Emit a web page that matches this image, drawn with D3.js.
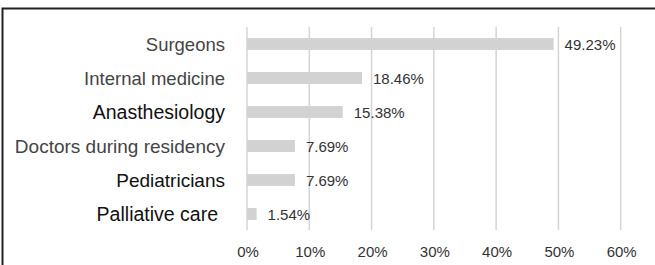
<!DOCTYPE html>
<html>
<head>
  <meta charset="utf-8">
  <script src="https://d3js.org/d3.v7.min.js"></script>
  <style>
    body { margin: 0; background: #fff; }
    text { font-family: "Liberation Sans", Arial, sans-serif; }
  </style>
</head>
<body>
<div id="chart"></div>
<script>
  // Specialties and their share of respondents (%).
  const categories = ["Surgeons", "Internal medicine", "Anasthesiology",
                      "Doctors during residency", "Pediatricians", "Palliative care"];
  const values = [49.23, 18.46, 15.38, 7.69, 7.69, 1.54];
  const ticks = [0, 10, 20, 30, 40, 50, 60];

  const W = 655, H = 265;
  const svg = d3.select("#chart").append("svg")
    .attr("width", W)
    .attr("height", H);

  // frame: top and left only
  svg.append("path")
    .attr("d", "M2.5," + H + "V8.5H" + W)
    .attr("fill", "none")
    .attr("stroke", "#222")
    .attr("stroke-width", 2);

  const x = d3.scaleLinear().domain([0, 60]).range([247, 620.7]);
  const y = d3.scaleBand().domain(categories).range([27, 231])
    .paddingInner(0.65).paddingOuter(0.325);

  // vertical gridlines
  svg.selectAll(".grid")
    .data(ticks)
    .enter().append("line")
    .attr("x1", d => x(d)).attr("x2", d => x(d))
    .attr("y1", 27).attr("y2", 230)
    .attr("stroke", "#d4d4d4")
    .attr("stroke-width", 1.5);

  // bars
  svg.selectAll(".bar")
    .data(values)
    .enter().append("rect")
    .attr("x", x(0))
    .attr("y", (d, i) => y(categories[i]))
    .attr("width", d => x(d) - x(0))
    .attr("height", y.bandwidth())
    .attr("fill", "#d2d2d2");

  // value labels
  svg.selectAll(".val")
    .data(values)
    .enter().append("text")
    .attr("x", d => x(d) + 11)
    .attr("y", (d, i) => y(categories[i]) + y.bandwidth() / 2 + 5.5)
    .attr("font-size", "15px")
    .attr("fill", "#333")
    .text(d => d.toFixed(2) + "%");

  // category labels (the source mixes two text styles)
  const labelSize = [18.5, 18.5, 19.5, 19, 19, 19.5];
  const labelEnd = [225, 225, 225, 225, 225, 218];
  svg.selectAll(".cat")
    .data(categories)
    .enter().append("text")
    .attr("x", (d, i) => labelEnd[i])
    .attr("y", d => y(d) + y.bandwidth() / 2 + 6.5)
    .attr("text-anchor", "end")
    .attr("font-size", (d, i) => labelSize[i] + "px")
    .attr("fill", (d, i) => (i < 2 || i == 3) ? "#444" : "#111")
    .text(d => d);

  // tick labels
  svg.selectAll(".tick")
    .data(ticks)
    .enter().append("text")
    .attr("x", d => x(d) + 1)
    .attr("y", 257)
    .attr("text-anchor", "middle")
    .attr("font-size", "15px")
    .attr("fill", "#333")
    .text(d => d + "%");
</script>
</body>
</html>
